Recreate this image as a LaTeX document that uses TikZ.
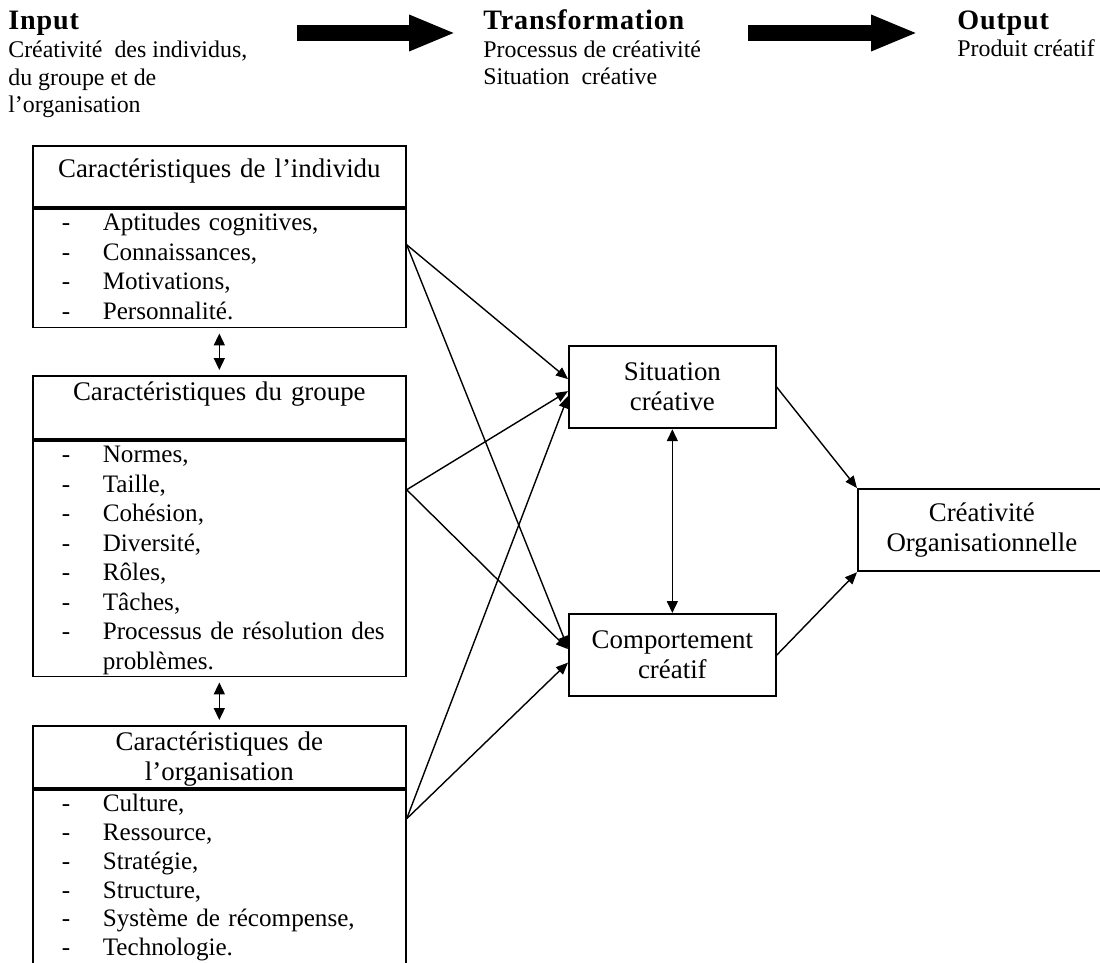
\documentclass[tikz,border=0pt]{standalone}
\usepackage{fontspec}
\setmainfont{Liberation Serif}
\usetikzlibrary{arrows.meta}

\newcommand{\titreentete}[1]{{\fontsize{16}{15.93}\selectfont\bfseries\addfontfeatures{LetterSpace=3}#1}}
\newcommand{\listecarac}[1]{\begin{tabular}[t]{@{\hspace{0.58cm}}p{0.82cm}@{}p{5.9cm}@{}}#1\end{tabular}}

\begin{document}
\begin{tikzpicture}[x=0.02cm,y=-0.02cm,
  entete/.style={anchor=base west,inner sep=0pt,align=left,font=\fontsize{13.6}{15.93}\selectfont},
  titrebox/.style={draw,line width=1pt,anchor=north west,inner sep=0pt,text width=7.46cm,align=center,font=\fontsize{15.3}{17}\selectfont},
  listebox/.style={draw,line width=1pt,anchor=north west,inner sep=0pt,text width=7.46cm,align=left,font=\fontsize{14.3}{16.8}\selectfont},
  boite/.style={draw,line width=1pt,anchor=north west,inner sep=0pt,minimum width=4.14cm,minimum height=1.65cm,align=center,font=\fontsize{15.3}{17}\selectfont},
  lien/.style={line width=0.8pt,-{Triangle[length=0.24cm,width=0.2cm]}},
  lienbi/.style={line width=0.9pt,{Triangle[length=0.24cm,width=0.22cm]}-{Triangle[length=0.24cm,width=0.22cm]}},
  grossefleche/.style={line width=0.32cm,-{Triangle[length=0.94cm,width=0.66cm]}}]
  \useasboundingbox (0,0) rectangle (1100,963);

  % en-tete : input -> transformation -> output (ancre sur la derniere ligne)
  \node[entete] (input) at (8,113) {\titreentete{Input}\\Créativité\ \ des individus,\\du groupe et de\\l’organisation};
  \node[entete] (transfo) at (483,85) {\titreentete{Transformation}\\Processus de créativité\\Situation\ \ créative};
  \node[entete] (output) at (957,57) {\titreentete{Output}\\Produit créatif};
  \coordinate (f1a) at (297,33);
  \coordinate (f1b) at (456,33);
  \coordinate (f2a) at (748,33);
  \coordinate (f2b) at (918,33);
  \draw[grossefleche] (f1a) -- (f1b);
  \draw[grossefleche] (f2a) -- (f2b);

  % caracteristiques
  \node[titrebox,text height=0.64cm,text depth=0.58cm] (individu) at (32,145) {Caractéristiques de l’individu};
  \node[listebox,text height=0.44cm,text depth=1.94cm] (individuliste) at (individu.south west) {\listecarac{-&Aptitudes cognitives,\\-&Connaissances,\\-&Motivations,\\-&Personnalité.}};

  \node[titrebox,text height=0.5cm,text depth=0.76cm] (groupe) at (32,375) {Caractéristiques du groupe};
  \node[listebox,text height=0.44cm,text depth=4.28cm] (groupeliste) at (groupe.south west) {\listecarac{-&Normes,\\-&Taille,\\-&Cohésion,\\-&Diversité,\\-&Rôles,\\-&Tâches,\\-&Processus de résolution des problèmes.}};

  \node[titrebox,text height=0.5cm,text depth=0.74cm] (organisation) at (32,725) {Caractéristiques de\\l’organisation};
  \node[listebox,text height=0.44cm,text depth=3.06cm,font=\fontsize{14.3}{16.4}\selectfont] (organisationliste) at (organisation.south west) {\listecarac{-&Culture,\\-&Ressource,\\-&Stratégie,\\-&Structure,\\-&Système de récompense,\\-&Technologie.}};

  % transformation et resultat
  \node[boite] (situation) at (568,345) {Situation\\créative};
  \node[boite] (comportement) at (568,613) {Comportement\\créatif};
  \node[boite,minimum width=4.96cm] (creativite) at (857,488) {Créativité\\Organisationnelle};

  % liens
  \path (individuliste.north east) ++(0,37) coordinate (s1);
  \path (groupeliste.north east) ++(0,50) coordinate (s2);
  \path (organisationliste.north east) ++(0,30) coordinate (s3);
  \draw[lien] (s1) -- ([yshift=0.16cm]situation.west);
  \draw[lien] (s1) -- ([yshift=0.14cm]comportement.west);
  \draw[lien] (s2) -- ([yshift=-0.08cm]situation.west);
  \draw[lien] (s2) -- ([yshift=0.12cm]comportement.west);
  \draw[lien] (s3) -- ([yshift=-0.18cm]situation.west);
  \draw[lien] (s3) -- ([yshift=-0.15cm]comportement.west);
  \draw[lien] (situation.east) -- (creativite.north west);
  \draw[lien] (comportement.east) -- (creativite.south west);
  \draw[lienbi] (situation.south) -- (comportement.north);
  \draw[lienbi,shorten <=0.1cm,shorten >=0.1cm] (individuliste.south) -- (groupe.north);
  \draw[lienbi,shorten <=0.1cm,shorten >=0.1cm] (groupeliste.south) -- (organisation.north);
\end{tikzpicture}
\end{document}
